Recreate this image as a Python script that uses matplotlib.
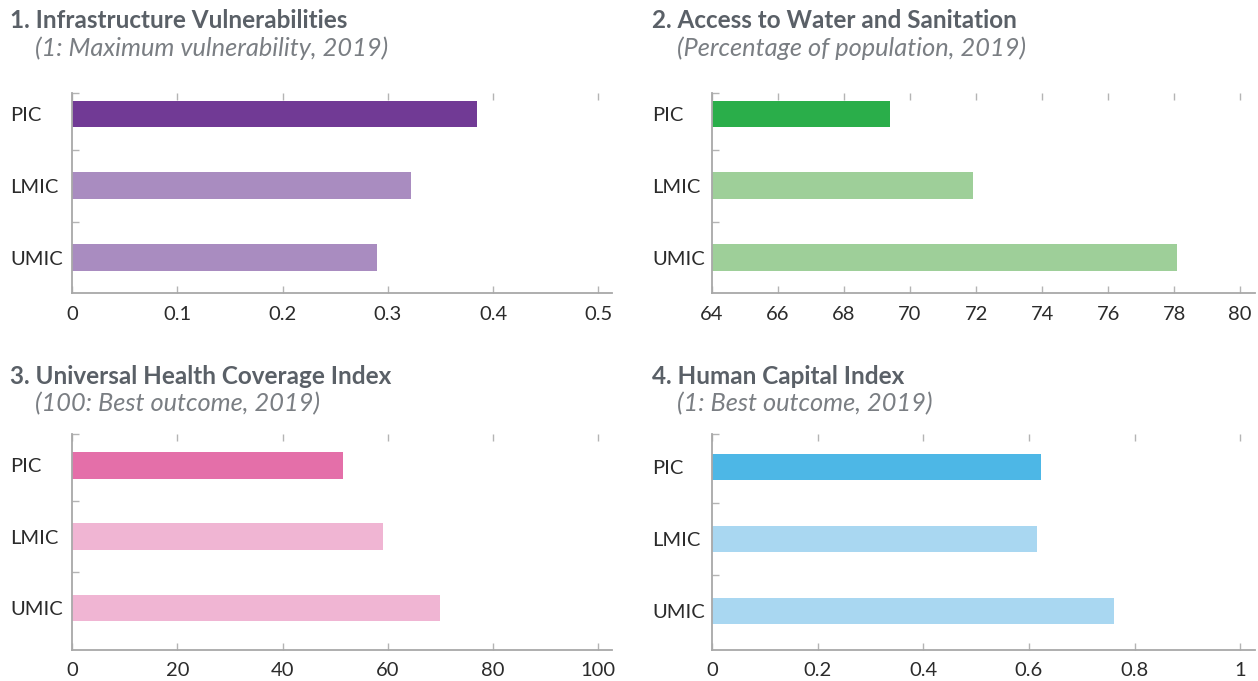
import matplotlib.pyplot as plt

plt.rcParams['font.family'] = ['Lato', 'DejaVu Sans']

W, H = 1258, 681

groups = ["PIC", "LMIC", "UMIC"]

infra = [0.385, 0.322, 0.290]
water = [69.4, 71.9, 78.1]
health = [51.5, 59.1, 70.0]
human = [0.623, 0.616, 0.761]

titles = ["1. Infrastructure Vulnerabilities", "2. Access to Water and Sanitation",
          "3. Universal Health Coverage Index", "4. Human Capital Index"]
subtitles = ["(1: Maximum vulnerability, 2019)", "(Percentage of population, 2019)",
             "(100: Best outcome, 2019)", "(1: Best outcome, 2019)"]

ticks1 = [0, 0.1, 0.2, 0.3, 0.4, 0.5]
ticks2 = [64, 66, 68, 70, 72, 74, 76, 78, 80]
ticks3 = [0, 20, 40, 60, 80, 100]
ticks4 = [0, 0.2, 0.4, 0.6, 0.8, 1]
labels1 = ["0", "0.1", "0.2", "0.3", "0.4", "0.5"]
labels4 = ["0", "0.2", "0.4", "0.6", "0.8", "1"]

colors = [("#713a95", "#a98cc0"), ("#2aae4a", "#9ecf99"),
          ("#e46fa9", "#f0b5d3"), ("#4db7e6", "#a9d7f1")]

fig = plt.figure(figsize=(W / 100, H / 100), dpi=100)


def make_ax(left, right, top, bottom):
    return fig.add_axes([left / W, 1 - bottom / H, (right - left) / W, (bottom - top) / H])


# (values, base, xlim, ticks, ticklabels, ylim, axes box, title pos)
panels = [
    (infra, 0, (0, 0.513), ticks1, labels1, (2.49, -0.29), (72, 612, 93, 293), (10, 20, 48)),
    (water, 64, (64, 80.45), ticks2, [str(t) for t in ticks2], (2.49, -0.29), (712, 1255, 93, 293), (652, 20, 48)),
    (health, 0, (0, 102.6), ticks3, [str(t) for t in ticks3], (2.59, -0.44), (72, 612, 434, 650), (10, 377, 404)),
    (human, 0, (0, 1.028), ticks4, labels4, (2.54, -0.46), (712, 1255, 434, 650), (652, 377, 404)),
]

spine_col = "#a8a8a8"
tick_col = "#b4b4b4"

for i, (vals, base, xlim, xt, xl, ylim, box, tpos) in enumerate(panels):
    ax = make_ax(*box)
    dark, light = colors[i]
    bar_cols = [dark, light, light]
    ax.barh(range(3), [v - base for v in vals], left=base, height=0.37, color=bar_cols)
    ax.set_xlim(*xlim)
    ax.set_ylim(*ylim)

    ax.set_xticks(xt)
    ax.set_xticklabels(xl)
    ax.tick_params(axis='x', direction='in', length=5, width=1, color=tick_col,
                   top=True, labeltop=False, labelsize=14.5, labelcolor="#2b2b2b", pad=9)

    ax.set_yticks(range(3))
    ax.set_yticklabels(groups)
    ax.set_yticks([ylim[1], 0.5, 1.5], minor=True)
    pad_px = box[0] - tpos[0]
    ax.tick_params(axis='y', which='major', length=0, labelsize=14.5,
                   labelcolor="#2b2b2b", pad=pad_px * 0.72)
    ax.tick_params(axis='y', which='minor', direction='in', length=5, width=1, color=tick_col)
    for lab in ax.get_yticklabels():
        lab.set_horizontalalignment('left')

    for s in ["top", "right"]:
        ax.spines[s].set_visible(False)
    for s in ["left", "bottom"]:
        ax.spines[s].set_color(spine_col)
        ax.spines[s].set_linewidth(1.3)

    fig.text(tpos[0] / W, 1 - tpos[1] / H, titles[i], fontsize=17.5, fontweight='bold',
             color="#5a6067", va='center', ha='left')
    fig.text((tpos[0] + 25) / W, 1 - tpos[2] / H, subtitles[i], fontsize=18.3, style='italic',
             color="#7a7e83", va='center', ha='left')

plt.savefig("out.png", dpi=100)
